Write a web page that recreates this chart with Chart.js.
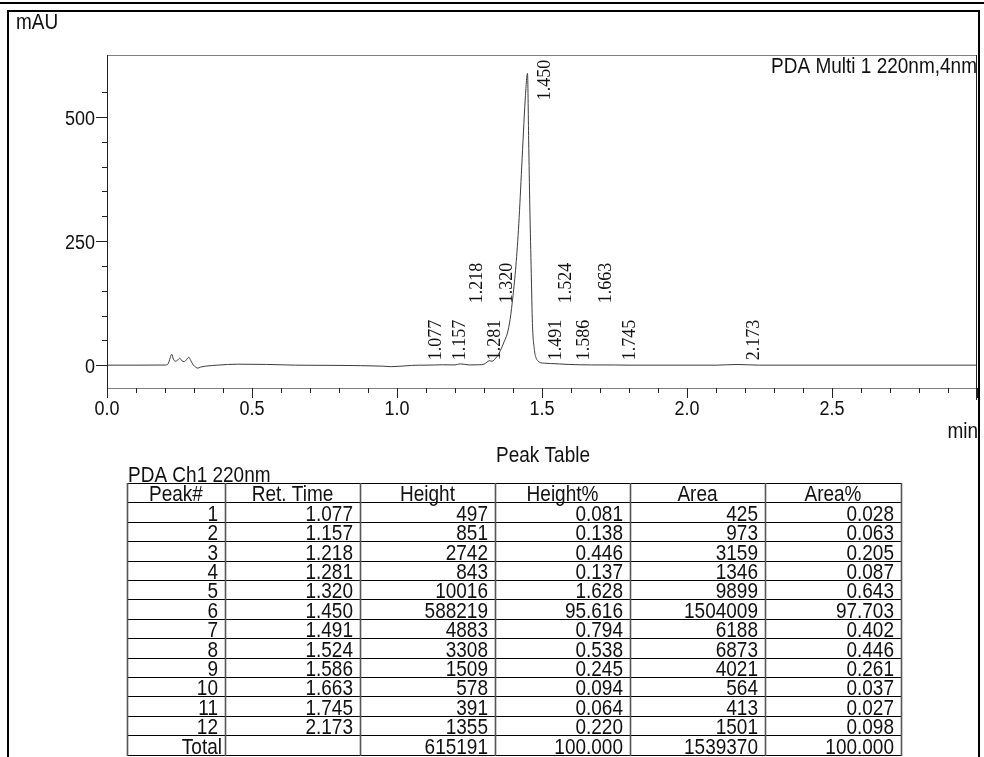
<!DOCTYPE html>
<html>
<head>
<meta charset="utf-8">
<script src="https://cdn.jsdelivr.net/npm/chart.js@4.4.1/dist/chart.umd.min.js"></script>
<style>
  body { margin: 0; background: #fff; }
  #chrom { display: block; }
</style>
</head>
<body>
<canvas id="chrom" width="984" height="757"></canvas>
<script>
// trace: retention time (min) / signal (mAU)
const traceTime = [
  0.00, 0.10, 0.20, 0.21, 0.218, 0.223, 0.229, 0.236, 0.243, 0.251, 0.258, 0.266,
  0.274, 0.282, 0.289, 0.298, 0.306, 0.313, 0.322, 0.34, 0.38, 0.45, 0.55, 0.65,
  0.80, 0.95, 0.98, 1.05, 1.077, 1.10, 1.157, 1.20, 1.218, 1.25, 1.281, 1.30,
  1.31, 1.318, 1.328, 1.34, 1.35, 1.36, 1.37, 1.38, 1.39, 1.40, 1.41, 1.42,
  1.43, 1.442, 1.450, 1.454, 1.458, 1.463, 1.467, 1.474, 1.480, 1.487, 1.495, 1.51,
  1.53, 1.56, 1.59, 1.63, 1.67, 1.75, 1.80, 2.10, 2.173, 2.25, 3.00
];
const traceMAU = [
  0, 0, 0.3, 2, 15, 22, 12, 8, 10, 14, 9, 7,
  11, 16, 9, 0, -4, -6, -4, -2, 0, 2, 1.5, 0,
  -0.5, -2, -3, -0.5, 0, 0, 0.8, 0.5, 2.7, 0.5, 0.8, 2,
  6, 9, 8, 14, 22, 34, 48, 63, 92, 140, 200, 285,
  399, 534, 588, 454, 319, 185, 84, 30, 14, 8, 5, 4,
  3.3, 2.5, 1.5, 0.8, 0.5, 0.4, 0, 0, 1.4, 0, 0
];

// peak table (PDA Ch1 220nm)
const retTimes  = [1.077, 1.157, 1.218, 1.281, 1.320, 1.450, 1.491, 1.524, 1.586, 1.663, 1.745, 2.173];
const heights   = [497, 851, 2742, 843, 10016, 588219, 4883, 3308, 1509, 578, 391, 1355];
const heightPct = [0.081, 0.138, 0.446, 0.137, 1.628, 95.616, 0.794, 0.538, 0.245, 0.094, 0.064, 0.220];
const areas     = [425, 973, 3159, 1346, 9899, 1504009, 6188, 6873, 4021, 564, 413, 1501];
const areaPct   = [0.028, 0.063, 0.205, 0.087, 0.643, 97.703, 0.402, 0.446, 0.261, 0.037, 0.027, 0.098];
const totalHeight = 615191;
const totalArea = 1539370;

const tableHeader = ['Peak#', 'Ret. Time', 'Height', 'Height%', 'Area', 'Area%'];

// axis ticks
const yTickLabels = [0, 250, 500];
const xTickLabels = ['0.0', '0.5', '1.0', '1.5', '2.0', '2.5'];

const SANS = '"Liberation Sans", Arial, sans-serif';
const SERIF = '"Liberation Serif", "Times New Roman", serif';
const STRETCH = 1.14;

// peaks whose labels go up one row so they don't collide
const raisedLabels = [2, 4, 7, 9];

function txt(c, s, x, y, align, size) {
  c.save();
  c.font = size + 'px ' + SANS;
  c.translate(x, y);
  c.scale(1, STRETCH);
  c.textAlign = align;
  c.textBaseline = 'alphabetic';
  c.fillText(s, 0, 0);
  c.restore();
}

function hline(c, x1, x2, y) {
  c.beginPath(); c.moveTo(x1, y); c.lineTo(x2, y); c.stroke();
}
function vline(c, x, y1, y2) {
  c.beginPath(); c.moveTo(x, y1); c.lineTo(x, y2); c.stroke();
}

const paper = {
  id: 'paper',
  beforeDraw(chart) {
    const c = chart.ctx;
    c.save();
    c.fillStyle = '#fff';
    c.fillRect(0, 0, chart.width, chart.height);
    c.restore();
  },
  afterDraw(chart) {
    const c = chart.ctx;
    const a = chart.chartArea;
    const xs = chart.scales.x, ys = chart.scales.y;
    c.save();
    c.fillStyle = '#111';

    // page frame
    c.fillStyle = '#000';
    c.fillRect(0, 2, chart.width, 2);
    c.strokeStyle = '#000';
    c.lineWidth = 2;
    c.strokeRect(8, 11, 971, 760);
    c.fillStyle = '#111';

    // plot box
    c.lineWidth = 1;
    c.strokeStyle = '#808080';
    hline(c, a.left, a.right, a.top + 0.5);
    hline(c, a.left, a.right, a.bottom + 0.5);
    c.strokeStyle = '#222';
    vline(c, a.left + 0.5, a.top, a.bottom + 10);
    vline(c, a.right - 0.5, a.top, a.bottom + 12);

    // y ticks every 50 mAU, labelled ones longer
    c.strokeStyle = '#222';
    ys.ticks.forEach(t => {
      if (t.value % 50 !== 0) return;
      const y = Math.round(ys.getPixelForValue(t.value)) + 0.5;
      const major = yTickLabels.includes(t.value);
      hline(c, a.left - (major ? 11 : 5), a.left, y);
    });
    yTickLabels.forEach(v => {
      const y = ys.getPixelForValue(v);
      txt(c, String(v), a.left - 12, y + 7.5, 'right', 18);
    });

    // x ticks every 0.1 min
    xs.ticks.forEach(t => {
      const x = Math.round(xs.getPixelForValue(t.value)) + 0.5;
      const major = Math.abs(t.value * 2 - Math.round(t.value * 2)) < 1e-6;
      vline(c, x, a.bottom, a.bottom + (major ? 10 : 5));
    });
    xTickLabels.forEach(s => {
      const x = xs.getPixelForValue(parseFloat(s));
      txt(c, s, x, a.bottom + 27, 'center', 18);
    });

    // axis units and channel name
    txt(c, 'mAU', 16, 29, 'left', 19);
    txt(c, 'min', 978, 438, 'right', 19);
    txt(c, 'PDA Multi 1 220nm,4nm', a.right, 73, 'right', 19);

    // retention time labels
    c.font = '18px ' + SERIF;
    c.textAlign = 'left';
    c.textBaseline = 'alphabetic';
    const y0 = ys.getPixelForValue(0);
    retTimes.forEach((rt, i) => {
      const x = xs.getPixelForValue(rt) + 22;
      const h = heights[i] / 1000;
      let yb;
      if (h > 100) yb = ys.getPixelForValue(h) + 27;
      else if (raisedLabels.includes(i)) yb = y0 - 62;
      else yb = y0 - 5;
      c.save();
      c.translate(x, yb);
      c.rotate(-Math.PI / 2);
      c.fillText(rt.toFixed(3), 0, 0);
      c.restore();
    });

    // peak table
    txt(c, 'Peak Table', 543, 462, 'center', 19);
    txt(c, 'PDA Ch1 220nm', 128, 482, 'left', 19);

    const colX = [127, 225, 360, 495, 630, 765, 901];
    const top = 483, rowH = 19.4, nRows = 14;
    const bottom = top + rowH * nRows;
    const rows = retTimes.map((rt, i) => [
      String(i + 1), rt.toFixed(3), String(heights[i]), heightPct[i].toFixed(3),
      String(areas[i]), areaPct[i].toFixed(3)
    ]);
    rows.push(['Total', '', String(totalHeight), (100).toFixed(3), String(totalArea), (100).toFixed(3)]);

    c.strokeStyle = '#000';
    c.lineWidth = 1;
    for (let r = 0; r <= nRows; r++) {
      hline(c, colX[0], colX[6], Math.round(top + r * rowH) + 0.5);
    }
    c.strokeStyle = '#555';
    c.lineWidth = 1.6;
    colX.forEach(x => vline(c, x + 0.5, top, Math.round(bottom) + 1));

    tableHeader.forEach((hd, k) => {
      txt(c, hd, (colX[k] + colX[k + 1]) / 2, top + rowH - 1, 'center', 19);
    });
    rows.forEach((row, r) => {
      const yb = top + rowH * (r + 2) - 1;
      row.forEach((cell, k) => {
        if (!cell) return;
        const pad = (r === rows.length - 1 && k === 0) ? 3 : 7;
        txt(c, cell, colX[k + 1] - pad, yb, 'right', 19);
      });
    });

    c.restore();
  }
};

new Chart(document.getElementById('chrom'), {
  type: 'line',
  data: {
    datasets: [{
      data: traceTime.map((t, i) => ({ x: t, y: traceMAU[i] })),
      borderColor: '#3c3c3c',
      borderWidth: 1,
      pointRadius: 0,
      fill: false,
      cubicInterpolationMode: 'monotone'
    }]
  },
  options: {
    responsive: false,
    animation: false,
    devicePixelRatio: 1,
    layout: { padding: { left: 107, top: 55, right: 7, bottom: 369 } },
    plugins: { legend: { display: false }, tooltip: { enabled: false } },
    scales: {
      x: {
        type: 'linear', min: 0, max: 3, display: false,
        ticks: { stepSize: 0.1 }
      },
      y: {
        type: 'linear', min: -46, max: 625, display: false,
        ticks: { stepSize: 50 }
      }
    }
  },
  plugins: [paper]
});
</script>
</body>
</html>
